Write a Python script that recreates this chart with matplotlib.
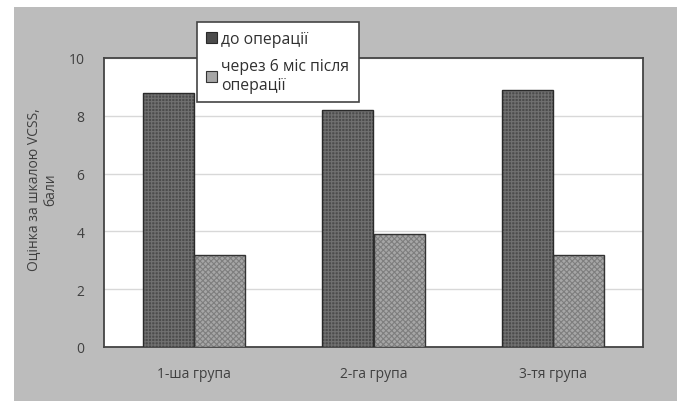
import matplotlib
matplotlib.use("Agg")
import matplotlib.pyplot as plt
import matplotlib.patches as mpatches
import numpy as np

groups = ["1-ша група", "2-га група", "3-тя група"]
before = [8.8, 8.2, 8.9]
after = [3.2, 3.9, 3.2]
series_labels = ["до операції", "через 6 міс після\nоперації"]
y_ticks = [0, 2, 4, 6, 8, 10]
y_label = "Оцінка за шкалою VCSS,\nбали"

plt.rcParams["font.family"] = ["Open Sans", "DejaVu Sans"]
plt.rcParams["hatch.linewidth"] = 0.8

W, H = 677, 402
fig = plt.figure(figsize=(W / 100, H / 100), dpi=100)
fig.patch.set_facecolor("white")

# gray panel behind the chart
fig.patches.append(mpatches.Rectangle((14 / W, 0), 1 - 14 / W, 1 - 8 / H,
                                      transform=fig.transFigure,
                                      facecolor="#bcbcbc", edgecolor="none",
                                      zorder=-10))

ax = fig.add_axes([104 / W, 1 - 348 / H, (643 - 104) / W, (348 - 59) / H])
ax.set_facecolor("white")

x = np.arange(len(groups))
bw = 0.285
# textured fills (hatch takes the edge colour), then crisp outlines on top
ax.bar(x - bw / 2, before, bw, color="#4c4c4c", edgecolor="#707070",
       hatch="+++++", linewidth=0, zorder=3)
ax.bar(x + bw / 2, after, bw, color="#a6a6a6", edgecolor="#7e7e7e",
       hatch="xxxxxx", linewidth=0, zorder=3)
ax.bar(x - bw / 2, before, bw, fill=False, edgecolor="#2a2a2a",
       linewidth=1.0, zorder=4)
ax.bar(x + bw / 2, after, bw, fill=False, edgecolor="#333333",
       linewidth=1.0, zorder=4)

ax.set_xlim(-0.5, len(groups) - 0.5)
ax.set_ylim(0, 10)
ax.set_yticks(y_ticks)
ax.set_xticks(x)
ax.set_xticklabels(groups)
ax.yaxis.grid(True, color="#d8d8d8", linewidth=1.0, zorder=0)
ax.set_axisbelow(True)
ax.tick_params(axis="both", length=0, labelsize=10, colors="#404040")
ax.tick_params(axis="x", pad=14)
ax.tick_params(axis="y", pad=14)
for s in ax.spines.values():
    s.set_color("#444444")
    s.set_linewidth(1.3)

fig.text(42 / W, 1 - 190 / H, y_label, rotation=90, ha="center", va="center",
         fontsize=10, color="#404040", multialignment="center")

h1 = mpatches.Patch(facecolor="#4c4c4c", edgecolor="#2a2a2a", linewidth=0.8)
h2 = mpatches.Patch(facecolor="#a6a6a6", edgecolor="#333333", linewidth=0.8)
leg = fig.legend([h1, h2], series_labels,
                 loc="upper left", bbox_to_anchor=(197 / W, 1 - 23 / H),
                 borderaxespad=0, frameon=True, fancybox=False, fontsize=11.3,
                 handlelength=0.7, handleheight=0.7, handletextpad=0.25,
                 labelspacing=0.7, borderpad=0.6, labelcolor="#303030")
leg.get_frame().set_edgecolor("#444444")
leg.get_frame().set_linewidth(1.2)
leg.get_frame().set_facecolor("white")
leg.get_frame().set_alpha(1)

fig.savefig("out.png", dpi=100, facecolor=fig.get_facecolor())
